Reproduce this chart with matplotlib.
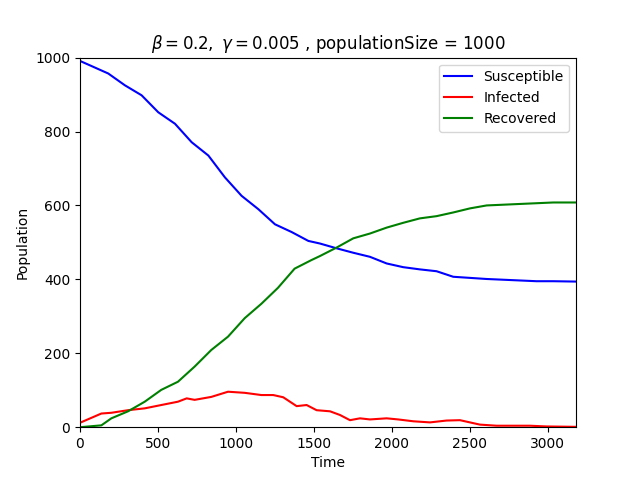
import matplotlib
matplotlib.use("Agg")
import matplotlib.pyplot as plt

# values
t_sus = [0, 181, 288, 395, 502, 609, 716, 823, 929, 1036, 1143, 1250, 1357, 1464, 1538,
         1645, 1752, 1859, 1966, 2072, 2179, 2286, 2393, 2500, 2607, 2714, 2820, 2927, 3034, 3180]
susceptible = [991, 957, 925, 898, 852, 821, 771, 735, 676, 626, 590, 549, 528, 504, 497,
               484, 472, 461, 443, 433, 427, 422, 407, 404, 401, 399, 397, 395, 395, 394]

t_inf = [0, 137, 201, 308, 415, 521, 628, 684, 735, 842, 949, 1056, 1163, 1239, 1303, 1389,
         1453, 1517, 1603, 1667, 1731, 1795, 1859, 1966, 2040, 2137, 2244, 2350, 2436, 2500,
         2564, 2671, 2885, 2992, 3180]
infected = [12, 37, 39, 46, 51, 60, 69, 78, 74, 82, 96, 93, 87, 87, 81, 57,
            60, 46, 43, 33, 19, 24, 21, 24, 21, 16, 13, 18, 19, 13,
            7, 4, 4, 2, 1]

t_rec = [0, 137, 201, 308, 415, 521, 628, 735, 842, 949, 1056, 1163, 1269, 1376, 1483, 1538,
         1645, 1752, 1859, 1966, 2072, 2179, 2286, 2393, 2500, 2607, 2714, 2820, 2927, 3034, 3180]
recovered = [0, 5, 24, 43, 69, 101, 123, 164, 209, 245, 295, 334, 377, 429, 452, 463,
             486, 511, 524, 540, 553, 565, 571, 581, 592, 600, 602, 604, 606, 608, 608]

beta = 0.2
gamma = 0.005
population_size = 1000

fig = plt.figure(figsize=(6.4, 4.8), dpi=100)
plt.plot(t_sus, susceptible, color="b", label="Susceptible")
plt.plot(t_inf, infected, color="r", label="Infected")
plt.plot(t_rec, recovered, color="g", label="Recovered")

plt.title(r"$\beta = %s,\ \gamma = %s$ , populationSize = %d" % (beta, gamma, population_size))
plt.xlabel("Time")
plt.ylabel("Population")
plt.xlim(0, 3180)
plt.ylim(0, population_size)
plt.legend(loc="upper right")

plt.savefig("out.png")
plt.close()
